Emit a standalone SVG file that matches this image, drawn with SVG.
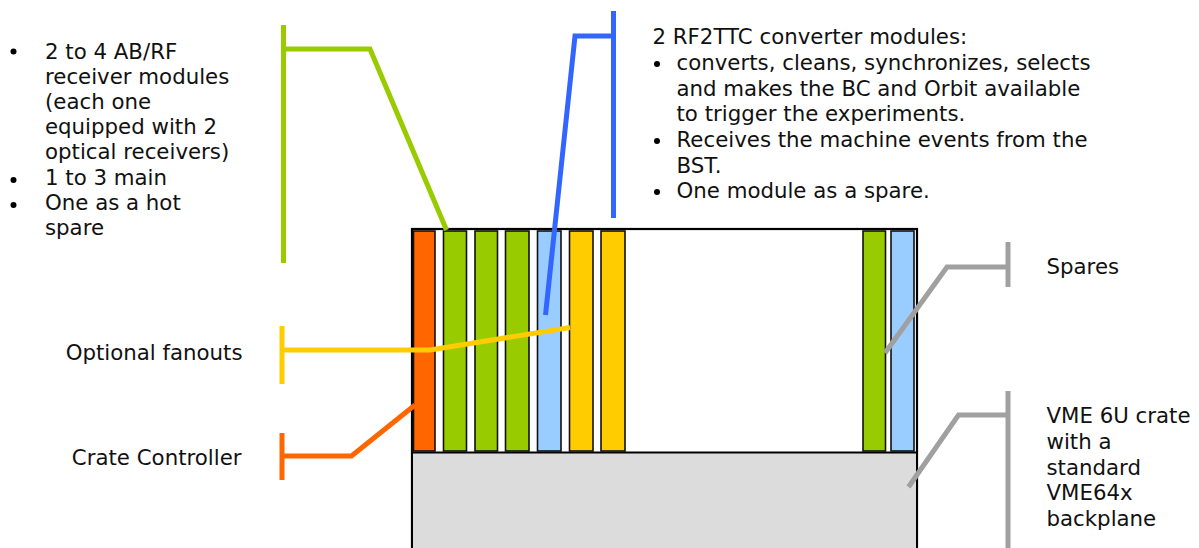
<svg xmlns="http://www.w3.org/2000/svg" width="1199" height="548" viewBox="0 0 1199 548">
<style>
text{font-family:"DejaVu Sans","Liberation Sans",sans-serif;font-size:21.3px;fill:#111}
.card{stroke:#111;stroke-width:1.6}
.c{fill:none;stroke-width:5;stroke-linejoin:miter;stroke-linecap:butt}
.g{stroke:#99cc00}.b{stroke:#3366ff}.y{stroke:#ffcc00}.o{stroke:#ff6600}.k{stroke:#a0a0a0}
</style>
<rect width="1199" height="548" fill="#fff"/>
<g id="crate">
<rect x="412" y="229" width="505" height="330" fill="#fff" stroke="#000" stroke-width="2.2"/>
<rect x="412" y="452.5" width="505" height="110" fill="#dcdcdc" stroke="#000" stroke-width="2"/>
</g>
<g id="crate-controller"><rect class="card" x="413.5" y="231" width="21.5" height="220" fill="#ff6600"/></g>
<g id="abrf-1"><rect class="card" x="443.5" y="231" width="23" height="220" fill="#99cc00"/></g>
<g id="abrf-2"><rect class="card" x="475" y="231" width="22.5" height="220" fill="#99cc00"/></g>
<g id="abrf-3"><rect class="card" x="505.5" y="231" width="23.5" height="220" fill="#99cc00"/></g>
<g id="rf2ttc"><rect class="card" x="537.5" y="231" width="23.5" height="220" fill="#99ccff"/></g>
<g id="fanout-1"><rect class="card" x="569.5" y="231" width="23.5" height="220" fill="#ffcc00"/></g>
<g id="fanout-2"><rect class="card" x="601" y="231" width="24" height="220" fill="#ffcc00"/></g>
<g id="spare-abrf"><rect class="card" x="863" y="231" width="22.5" height="220" fill="#99cc00"/></g>
<g id="spare-rf2ttc"><rect class="card" x="891" y="231" width="23" height="220" fill="#99ccff"/></g>

<g id="connectors">
<polyline class="c g" points="283.5,25 283.5,263"/>
<polyline class="c g" points="283.5,49 370,49 446.5,230"/>
<polyline class="c b" points="613.5,11 613.5,218"/>
<polyline class="c b" points="613.5,36 575,36 545.5,315"/>
<polyline class="c y" points="282,326 282,384"/>
<polyline class="c y" points="282,350 430,350 570,327.5"/>
<polyline class="c o" points="282,433 282,480"/>
<polyline class="c o" points="282,456 351.5,456 415,405"/>
<polyline class="c k" points="1008,242 1008,287"/>
<polyline class="c k" points="1008,267 947,267 885,353"/>
<polyline class="c k" points="1008,391 1008,548"/>
<polyline class="c k" points="1008,415 958.5,415 908.5,487"/>
</g>

<g id="label-abrf">
<circle cx="13.5" cy="51.5" r="3"/>
<circle cx="13.5" cy="180" r="3"/>
<circle cx="13.5" cy="205" r="3"/>
<text x="45" y="58.5">2 to 4 AB/RF</text>
<text x="45" y="83.7">receiver modules</text>
<text x="45" y="108.9">(each one</text>
<text x="45" y="134.1">equipped with 2</text>
<text x="45" y="159.3">optical receivers)</text>
<text x="45" y="184.5">1 to 3 main</text>
<text x="45" y="209.7">One as a hot</text>
<text x="45" y="234.9">spare</text>
</g>
<g id="label-rf2ttc">
<circle cx="657" cy="64" r="3"/>
<circle cx="657" cy="141" r="3"/>
<circle cx="657" cy="192" r="3"/>
<text x="652.5" y="44">2 RF2TTC converter modules:</text>
<text x="676.5" y="70">converts, cleans, synchronizes, selects</text>
<text x="676.5" y="95.7">and makes the BC and Orbit available</text>
<text x="676.5" y="121.4">to trigger the experiments.</text>
<text x="676.5" y="147">Receives the machine events from the</text>
<text x="676.5" y="172.7">BST.</text>
<text x="676.5" y="198.3">One module as a spare.</text>
</g>
<g id="label-fanouts"><text x="242.5" y="360" text-anchor="end">Optional fanouts</text></g>
<g id="label-controller"><text x="241.5" y="465" text-anchor="end">Crate Controller</text></g>
<g id="label-spares"><text x="1046.5" y="273.5">Spares</text></g>
<g id="label-vme">
<text x="1046.5" y="423.3">VME 6U crate</text>
<text x="1046.5" y="449">with a</text>
<text x="1046.5" y="474.7">standard</text>
<text x="1046.5" y="500.4">VME64x</text>
<text x="1046.5" y="526">backplane</text>
</g>
</svg>
